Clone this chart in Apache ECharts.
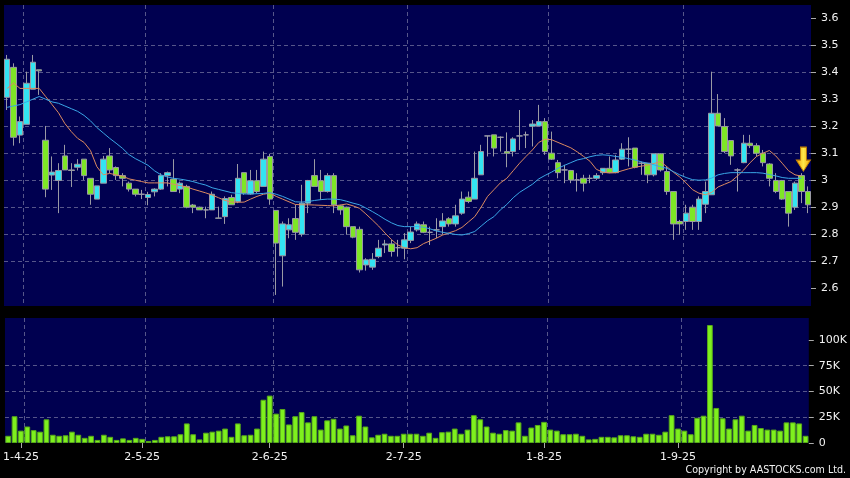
<!DOCTYPE html>
<html>
<head>
<meta charset="utf-8">
<script src="https://cdn.jsdelivr.net/npm/echarts@6/dist/echarts.min.js"></script>
<style>
html,body{margin:0;padding:0;background:#000;}
#chart{width:850px;height:478px;}
</style>
</head>
<body>
<div id="chart"></div>
<script>
// Trading days shown on the chart (by month)
const tradingDays = {
  '2025-03': [28, 31],
  '2025-04': [1, 2, 3, 7, 8, 9, 10, 11, 14, 15, 16, 17, 22, 23, 24, 25, 28, 29, 30],
  '2025-05': [2, 6, 7, 8, 9, 12, 13, 14, 15, 16, 19, 20, 21, 22, 23, 26, 27, 28, 29, 30],
  '2025-06': [2, 3, 4, 5, 6, 9, 10, 11, 12, 13, 16, 17, 18, 19, 20, 23, 24, 25, 26, 27, 30],
  '2025-07': [2, 3, 4, 7, 8, 9, 10, 11, 14, 15, 16, 17, 18, 21, 22, 23, 24, 25, 28, 29, 30, 31],
  '2025-08': [1, 4, 5, 6, 7, 8, 11, 12, 13, 14, 15, 18, 19, 20, 21, 22, 25, 26, 27, 28, 29],
  '2025-09': [1, 2, 3, 4, 5, 8, 9, 10, 11, 12, 15, 16, 17, 18, 19, 22, 23, 24, 25, 26, 29]
};

const xTickLabels = ['1-4-25', '2-5-25', '2-6-25', '2-7-25', '1-8-25', '1-9-25'];
const priceTicks = [2.6, 2.7, 2.8, 2.9, 3.0, 3.1, 3.2, 3.3, 3.4, 3.5, 3.6];
const volumeTicks = [0, 25, 50, 75, 100];

const opens = [3.307,3.418,3.167,3.207,3.337,3.409,3.148,3.019,2.999,3.090,
  3.038,3.048,3.078,3.007,2.930,2.989,3.090,3.047,3.017,2.989,
  2.967,2.948,2.936,2.957,2.967,3.017,3.004,2.967,2.977,2.908,
  2.900,2.890,2.890,2.860,2.865,2.936,2.921,3.028,2.949,2.998,
  2.977,3.088,2.888,2.720,2.816,2.858,2.800,2.915,3.017,2.998,
  2.958,3.017,2.905,2.900,2.828,2.818,2.686,2.678,2.717,2.760,
  2.764,2.750,2.748,2.777,2.816,2.835,2.807,2.816,2.828,2.857,
  2.838,2.878,2.937,2.930,3.020,3.164,3.168,3.159,3.106,3.106,
  3.164,3.168,3.200,3.201,3.217,3.100,3.065,3.038,3.036,3.001,
  3.007,3.007,3.007,3.028,3.044,3.028,3.078,3.115,3.119,3.063,
  3.063,3.020,3.098,3.032,2.958,2.847,2.847,2.900,2.847,2.911,
  2.946,3.248,3.199,3.147,3.038,3.065,3.137,3.128,3.100,3.060,
  2.999,2.999,2.958,2.900,3.017,2.958];

const closes = [3.448,3.159,3.217,3.359,3.437,3.405,2.967,3.030,3.036,3.038,
  3.036,3.059,3.017,2.948,2.979,3.078,3.038,3.017,3.007,2.967,
  2.948,2.948,2.947,2.967,3.017,3.028,2.958,2.989,2.900,2.900,
  2.890,2.890,2.948,2.859,2.932,2.909,3.007,2.952,2.998,2.958,
  3.078,2.930,2.767,2.838,2.835,2.807,2.915,2.999,2.977,2.958,
  3.017,2.909,2.890,2.828,2.789,2.668,2.705,2.707,2.748,2.764,
  2.736,2.750,2.779,2.808,2.838,2.807,2.807,2.816,2.849,2.838,
  2.868,2.930,2.921,3.007,3.106,3.164,3.119,3.159,3.100,3.153,
  3.164,3.168,3.208,3.217,3.106,3.078,3.028,3.038,3.001,3.001,
  2.989,3.007,3.017,3.044,3.028,3.075,3.115,3.115,3.048,3.063,
  3.020,3.098,3.038,2.958,2.838,2.838,2.878,2.847,2.930,2.958,
  3.248,3.201,3.106,3.090,3.038,3.137,3.128,3.100,3.065,3.007,
  2.958,2.930,2.878,2.989,2.958,2.909];

const lows = [3.260,3.128,3.137,3.207,3.337,3.316,2.937,2.964,2.878,3.038,
  2.975,3.036,3.001,2.909,2.930,2.989,3.026,3.001,2.977,2.958,
  2.940,2.930,2.907,2.940,2.964,2.977,2.958,2.952,2.896,2.878,
  2.890,2.859,2.890,2.859,2.838,2.909,2.915,2.946,2.946,2.952,
  2.977,2.909,2.575,2.606,2.785,2.779,2.791,2.878,2.977,2.927,
  2.954,2.878,2.872,2.798,2.785,2.658,2.665,2.668,2.711,2.730,
  2.717,2.717,2.707,2.767,2.810,2.804,2.760,2.785,2.798,2.828,
  2.828,2.872,2.915,2.930,3.020,3.088,3.088,3.106,3.048,3.088,
  3.112,3.119,3.125,3.201,3.094,3.075,3.007,2.989,2.989,2.958,
  2.958,2.989,3.001,3.020,3.026,3.026,3.075,3.051,3.044,3.020,
  2.989,3.014,3.032,2.946,2.779,2.798,2.816,2.816,2.816,2.878,
  2.946,3.201,3.100,3.057,2.958,3.063,3.119,3.088,3.051,2.977,
  2.952,2.927,2.828,2.890,2.915,2.878];

const highs = [3.464,3.433,3.236,3.402,3.464,3.409,3.201,3.088,3.063,3.131,
  3.063,3.078,3.078,3.007,2.979,3.090,3.119,3.051,3.026,2.995,
  2.967,2.964,2.957,2.970,3.026,3.032,3.078,2.995,2.983,2.912,
  2.902,2.902,2.958,2.902,2.940,2.946,3.060,3.028,3.038,3.038,
  3.106,3.098,2.888,2.847,2.859,2.909,2.983,3.001,3.078,3.038,
  3.026,3.026,2.909,2.902,2.828,2.828,2.711,2.730,2.779,2.779,
  2.779,2.779,2.804,2.828,2.847,2.847,2.828,2.859,2.878,2.863,
  2.909,2.958,2.958,3.106,3.131,3.164,3.168,3.162,3.177,3.159,
  3.260,3.180,3.223,3.279,3.230,3.180,3.075,3.057,3.038,3.026,
  3.020,3.020,3.026,3.044,3.088,3.094,3.137,3.159,3.119,3.069,
  3.063,3.098,3.100,3.051,2.958,2.853,2.909,2.909,2.940,2.995,
  3.402,3.319,3.230,3.147,3.044,3.168,3.168,3.137,3.112,3.063,
  3.026,3.001,2.958,2.995,3.026,2.977];

// Moving averages as drawn (orange = short, blue = long)
const maShort = [3.34,3.36,3.34,3.34,3.34,3.34,3.31,3.28,3.25,3.21,
  3.18,3.155,3.14,3.11,3.05,3.02,3.025,3.02,3.015,3.005,
  3.0,2.995,2.99,2.99,2.99,2.99,2.985,2.98,2.975,2.967,
  2.96,2.953,2.945,2.935,2.925,2.919,2.918,2.919,2.93,2.94,
  2.948,2.952,2.94,2.93,2.92,2.91,2.909,2.909,2.908,2.907,
  2.906,2.905,2.908,2.912,2.905,2.896,2.875,2.853,2.83,2.804,
  2.78,2.76,2.75,2.746,2.75,2.765,2.775,2.785,2.797,2.805,
  2.813,2.825,2.845,2.865,2.9,2.94,2.965,2.99,3.007,3.035,
  3.063,3.088,3.112,3.14,3.152,3.15,3.14,3.13,3.12,3.105,
  3.088,3.07,3.04,3.03,3.027,3.028,3.035,3.042,3.048,3.052,
  3.056,3.062,3.069,3.05,3.03,3.012,2.99,2.965,2.952,2.946,
  2.955,2.975,2.985,2.995,3.015,3.038,3.065,3.088,3.10,3.11,
  3.09,3.063,3.035,3.02,3.015,null];

const maLong = [3.27,3.275,3.28,3.29,3.30,3.31,3.30,3.29,3.285,3.275,
  3.265,3.255,3.24,3.22,3.195,3.175,3.155,3.137,3.118,3.095,
  3.08,3.068,3.055,3.035,3.02,3.012,3.007,3.004,3.0,2.995,
  2.988,2.982,2.972,2.966,2.96,2.954,2.951,2.949,2.949,2.95,
  2.951,2.954,2.948,2.94,2.93,2.92,2.919,2.921,2.925,2.928,
  2.93,2.93,2.928,2.922,2.915,2.909,2.897,2.884,2.87,2.855,
  2.842,2.832,2.828,2.828,2.828,2.826,2.82,2.812,2.807,2.803,
  2.799,2.797,2.802,2.81,2.83,2.85,2.865,2.89,2.91,2.935,
  2.955,2.97,2.985,3.005,3.018,3.03,3.044,3.055,3.065,3.075,
  3.08,3.087,3.092,3.094,3.092,3.088,3.085,3.08,3.075,3.068,
  3.063,3.057,3.05,3.044,3.032,3.02,3.01,3.002,3.0,3.001,
  3.008,3.02,3.025,3.028,3.028,3.028,3.028,3.028,3.026,3.021,
  3.016,3.01,3.007,3.007,3.007,null];

// Volume in thousands
const volumes = [7,26,12,16,12.5,11,23,8,7,7.5,
  11,8,5,7,3,8,6,3,4.5,3,
  5,4,2,3,6,6.5,6.5,8.5,19,8.5,
  3.5,10,11,12,14,6,19,7.5,8,14,
  42,46,28.5,33,18,26,30,20,26,13,
  22,23.5,14,17,7.5,26.5,16,5.5,8,9,
  7,7,9,9,9,7,10,5,10.5,11,
  14,9,13,27,23,16,10,9,12.5,12,
  20,7,15,17.5,20.5,13,12,8.5,8.5,9,
  7,3.5,4,6,6,5.5,7.5,7.5,6.5,6,
  9,9,8,11,27,14,12,8.5,24.5,26.5,
  114.5,34,24,14,23,26.5,12,17.5,14.5,13,
  13,12,20,20,19,7];

const arrowIndex = 124;

// ---- build ----
const dates = [];
Object.keys(tradingDays).forEach(function (ym) {
  tradingDays[ym].forEach(function (d) { dates.push(ym + '-' + (d < 10 ? '0' + d : d)); });
});
function fmtDate(s) {
  const p = s.split('-');
  return parseInt(p[2], 10) + '-' + parseInt(p[1], 10) + '-' + p[0].slice(2);
}
const labelIdx = dates.map(function (d, i) { return xTickLabels.indexOf(fmtDate(d)) >= 0 ? i : -1; })
  .filter(function (i) { return i >= 0; });
const candles = dates.map(function (d, i) { return [opens[i], closes[i], lows[i], highs[i]]; });

const gridLine = { color: '#56568a', width: 1, type: [4, 3] };
const txtFont = 'DejaVu Sans';
const labelColor = '#f2f2f2';

const chart = echarts.init(document.getElementById('chart'), null, { renderer: 'canvas' });
chart.setOption({
  backgroundColor: '#000000',
  animation: false,
  grid: [
    { left: 4, right: 39, top: 5, height: 301, show: true, backgroundColor: '#000050', borderWidth: 0 },
    { left: 4, right: 39, top: 318, height: 125, show: true, backgroundColor: '#000050', borderWidth: 0 }
  ],
  xAxis: [
    {
      type: 'category', gridIndex: 0, data: dates, boundaryGap: true,
      axisLine: { show: false }, axisTick: { show: false }, axisLabel: { show: false },
      splitLine: { show: true, showMaxLine: false, interval: function (i) { return labelIdx.indexOf(i - 1) >= 0; }, lineStyle: gridLine }
    },
    {
      type: 'category', gridIndex: 1, data: dates, boundaryGap: true,
      axisLine: { show: false },
      axisTick: { show: true, alignWithLabel: true, length: 5, interval: function (i) { return labelIdx.indexOf(i) >= 0; }, lineStyle: { color: '#aaaaaa' } },
      axisLabel: {
        show: true, interval: function (i) { return labelIdx.indexOf(i) >= 0; },
        formatter: function (v) { return fmtDate(v); },
        color: labelColor, fontSize: 11, fontFamily: txtFont, margin: 9
      },
      splitLine: { show: true, showMaxLine: false, interval: function (i) { return labelIdx.indexOf(i - 1) >= 0; }, lineStyle: gridLine }
    }
  ],
  yAxis: [
    {
      type: 'value', gridIndex: 0, position: 'right', min: 2.534, max: 3.649, splitNumber: 11,
      axisLine: { show: false },
      axisTick: { show: true, length: 5, customValues: priceTicks, lineStyle: { color: '#aaaaaa' } },
      axisLabel: { customValues: priceTicks, color: labelColor, fontSize: 11, fontFamily: txtFont, margin: 10 },
      splitLine: { show: true, showMinLine: false, showMaxLine: false, lineStyle: gridLine }
    },
    {
      type: 'value', gridIndex: 1, position: 'right', min: 0, max: 121.3, interval: 25,
      axisLine: { show: false },
      axisTick: { show: true, length: 5, customValues: volumeTicks, lineStyle: { color: '#aaaaaa' } },
      axisLabel: {
        customValues: volumeTicks, color: labelColor, fontSize: 11, fontFamily: txtFont, margin: 10,
        formatter: function (v) { return v === 0 ? '0' : v + 'K'; }
      },
      splitLine: { show: true, showMinLine: false, showMaxLine: false, lineStyle: gridLine }
    }
  ],
  series: [
    {
      type: 'candlestick', xAxisIndex: 0, yAxisIndex: 0, data: candles, barWidth: 6,
      itemStyle: {
        color: '#33e4f2', color0: '#7ee626',
        borderColor: '#9a9aa4', borderColor0: '#9a9aa4', borderColorDoji: '#a0a0aa', borderWidth: 1
      },
      markPoint: {
        silent: true,
        data: [{
          coord: [dates[arrowIndex], highs[arrowIndex]],
          symbol: 'path://M4,0 L10,0 L10,13 L14,13 L7,24 L0,13 L4,13 Z',
          symbolSize: [14, 24], symbolOffset: [2, -14],
          itemStyle: {
            color: new echarts.graphic.LinearGradient(0, 0, 1, 0, [
              { offset: 0, color: '#f0a000' }, { offset: 0.5, color: '#ffe84a' }, { offset: 1, color: '#f0a000' }
            ]),
            borderColor: '#c98400', borderWidth: 1
          },
          label: { show: false }
        }]
      }
    },
    {
      type: 'line', xAxisIndex: 0, yAxisIndex: 0, data: maShort, showSymbol: false, symbol: 'none',
      lineStyle: { color: '#dc8a60', width: 1 }, z: 3
    },
    {
      type: 'line', xAxisIndex: 0, yAxisIndex: 0, data: maLong, showSymbol: false, symbol: 'none',
      lineStyle: { color: '#3aa6e6', width: 1 }, z: 3
    },
    {
      type: 'bar', xAxisIndex: 1, yAxisIndex: 1, data: volumes, barCategoryGap: '10%',
      itemStyle: { color: '#7ef01e', borderColor: '#58a81a', borderWidth: 1 }
    }
  ],
  graphic: [{
    type: 'text', right: 4, top: 465,
    style: {
      text: 'Copyright by AASTOCKS.com Ltd.', fill: '#f2f2f2',
      font: '10.6px "DejaVu Sans Condensed", "DejaVu Sans", sans-serif'
    }
  }]
});
</script>
</body>
</html>
